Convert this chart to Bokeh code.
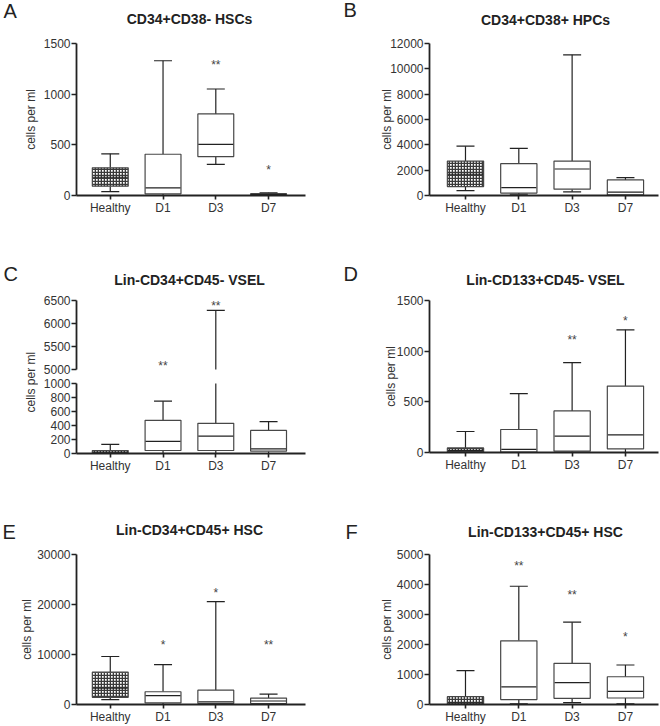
import math
from bokeh.plotting import figure
from bokeh.layouts import column, row
from bokeh.models import Range1d, FixedTicker, Label, LabelSet, ColumnDataSource, NumeralTickFormatter
from bokeh.core.properties import value, field
from bokeh.embed import file_html
from bokeh.resources import INLINE

categories = ["Healthy", "D1", "D3", "D7"]
y_title = "cells per ml"
panel_letters = ["A", "B", "C", "D", "E", "F"]

# Panel A: CD34+CD38- HSCs
a_title = "CD34+CD38- HSCs"
a_low = [39, 0, 308, 0]
a_q1 = [92, 17, 384, 3]
a_med = [180, 76, 505, 8]
a_q3 = [273, 407, 805, 18]
a_high = [411, 1330, 1051, 27]
a_star = ["", "", "**", "*"]
a_star_y = [0, 0, 1322, 280]
a_ticks = [0, 500, 1000, 1500]

# Panel B: CD34+CD38+ HPCs
b_title = "CD34+CD38+ HPCs"
b_low = [392, 100, 290, 0]
b_q1 = [706, 188, 502, 50]
b_med = [1677, 627, 2093, 267]
b_q3 = [2720, 2509, 2720, 1230]
b_high = [3896, 3716, 11109, 1411]
b_star = ["", "", "", ""]
b_star_y = [0, 0, 0, 0]
b_ticks = [0, 2000, 4000, 6000, 8000, 10000, 12000]

# Panel C: Lin-CD34+CD45- VSEL (broken axis)
c_title = "Lin-CD34+CD45- VSEL"
c_low = [0, 0, 0, 0]
c_q1 = [5, 43, 43, 33]
c_med = [19, 172, 249, 66]
c_q3 = [43, 474, 431, 330]
c_high = [129, 747, 6284, 454]
c_star = ["", "**", "**", ""]
c_star_y = [0, 5150, 6440, 0]
c_ticks_low = [0, 200, 400, 600, 800, 1000]
c_ticks_high = [5000, 5500, 6000, 6500]

# Panel D: Lin-CD133+CD45- VSEL
d_title = "Lin-CD133+CD45- VSEL"
d_low = [0, 0, 0, 0]
d_q1 = [5, 5, 13, 36]
d_med = [20, 30, 161, 173]
d_q3 = [45, 227, 410, 656]
d_high = [207, 581, 886, 1211]
d_star = ["", "", "**", "*"]
d_star_y = [0, 0, 1139, 1326]
d_ticks = [0, 500, 1000, 1500]

# Panel E: Lin-CD34+CD45+ HSC
e_title = "Lin-CD34+CD45+ HSC"
e_low = [980, 0, 0, 0]
e_q1 = [1431, 314, 200, 200]
e_med = [3254, 1764, 510, 700]
e_q3 = [6468, 2548, 2862, 1294]
e_high = [9604, 7958, 20580, 2078]
e_star = ["", "*", "*", "**"]
e_star_y = [0, 12545, 22850, 12545]
e_ticks = [0, 10000, 20000, 30000]

# Panel F: Lin-CD133+CD45+ HSC
f_title = "Lin-CD133+CD45+ HSC"
f_low = [0, 20, 65, 20]
f_q1 = [10, 163, 206, 216]
f_med = [50, 588, 729, 435]
f_q3 = [261, 2124, 1373, 925]
f_high = [1131, 3941, 2745, 1317]
f_star = ["", "**", "**", "*"]
f_star_y = [0, 4726, 3745, 2363]
f_ticks = [0, 1000, 2000, 3000, 4000, 5000]

FONT = "Liberation Sans"
INK = "#222222"
BOXLINE = "#474747"
TEXT = "#333333"
BOX_W = 0.68
LEFT_X = (-0.64, 3.70)
RIGHT_X = (-0.675, 3.62)


def make_fig(w, h, ml, mr, mt, mb, xr, yr, yticks, x_axis=True, y_label=None, y_label_standoff=4):
    p = figure(width=w, height=h, x_range=Range1d(*xr), y_range=Range1d(*yr),
               output_backend="svg", toolbar_location=None,
               x_axis_location="below" if x_axis else None,
               min_border_left=ml, min_border_right=mr, min_border_top=mt, min_border_bottom=mb,
               background_fill_color="white", border_fill_color="white")
    p.outline_line_color = None
    p.xgrid.visible = False
    p.ygrid.visible = False
    for ax in list(p.yaxis) + list(p.xaxis):
        ax.axis_line_color = INK
        ax.axis_line_width = 1.8
        ax.major_tick_line_color = INK
        ax.major_tick_line_width = 1.6
        ax.major_tick_in = 0
        ax.major_tick_out = 5
        ax.minor_tick_line_color = None
        ax.major_label_standoff = 1
        ax.major_label_text_font = FONT
        ax.major_label_text_font_size = "12px"
        ax.major_label_text_color = TEXT
    p.yaxis.ticker = FixedTicker(ticks=yticks)
    p.yaxis.formatter = NumeralTickFormatter(format="0")
    if x_axis:
        p.xaxis.major_tick_out = 4
        p.xaxis.ticker = FixedTicker(ticks=list(range(len(categories))))
        p.xaxis.major_label_overrides = {i: c for i, c in enumerate(categories)}
    if y_label:
        p.yaxis.axis_label = y_label
        p.yaxis.axis_label_text_font = FONT
        p.yaxis.axis_label_text_font_size = "12px"
        p.yaxis.axis_label_text_font_style = "normal"
        p.yaxis.axis_label_text_color = TEXT
        p.yaxis.axis_label_standoff = y_label_standoff
    return p


def blank_fig(w, h):
    p = figure(width=w, height=h, x_range=Range1d(0, w), y_range=Range1d(0, h),
               output_backend="svg", toolbar_location=None,
               x_axis_location=None, y_axis_location=None, min_border=0)
    p.outline_line_color = None
    p.grid.visible = False
    return p


def header(h, letters, letter_pos, titles, title_pos):
    # positions are pixels from the header's top-left corner
    p = blank_fig(660, h)
    p.text(x=[x for x, _ in letter_pos], y=[h - y for _, y in letter_pos], text=letters,
           text_font=value(FONT), text_font_size="20px", text_align="left",
           text_baseline="middle", text_color=INK)
    p.text(x=[x for x, _ in title_pos], y=[h - y for _, y in title_pos], text=titles,
           text_font=value(FONT), text_font_size="14px", text_font_style="bold",
           text_align="center", text_baseline="middle", text_color=INK)
    return p


def draw_boxes(p, low, q1, med, q3, high, star_text, star_y, yr, whiskers_only=False):
    xs = list(range(len(categories)))
    src = ColumnDataSource(dict(x=xs, low=low, q1=q1, med=med, q3=q3, high=high,
                                box_hatch=["cross"] + [" "] * (len(xs) - 1)))
    p.segment(x0="x", y0="q3", x1="x", y1="high", source=src, line_color=INK, line_width=1.2)
    if whiskers_only:
        hx = [x for x, h in zip(xs, high) if yr[0] <= h <= yr[1]]
        hy = [h for h in high if yr[0] <= h <= yr[1]]
        p.scatter(x=hx, y=hy, marker="dash", size=18, line_color=INK, line_width=1.2)
    else:
        p.segment(x0="x", y0="low", x1="x", y1="q1", source=src, line_color=INK, line_width=1.2)
        p.vbar(x="x", width=BOX_W, bottom="q1", top="q3", source=src,
               fill_color="white", hatch_pattern=field("box_hatch"), hatch_color="#3a3a3a",
               hatch_scale=3.0, hatch_weight=1.6, line_color=BOXLINE, line_width=1.2)
        p.scatter(x="x", y="med", marker="dash", size=35, source=src, line_color=INK, line_width=1.2)
        p.scatter(x="x", y="high", marker="dash", size=18, source=src, line_color=INK, line_width=1.2)
        p.scatter(x="x", y="low", marker="dash", size=18, source=src, line_color=INK, line_width=1.2)
    sx, sy, st = [], [], []
    for x, t, y in zip(xs, star_text, star_y):
        if t and yr[0] <= y <= yr[1]:
            sx.append(x); sy.append(y); st.append(t)
    if sx:
        ssrc = ColumnDataSource(dict(x=sx, y=sy, t=st))
        p.add_layout(LabelSet(x="x", y="y", text="t", source=ssrc, y_offset=-3,
                              text_font=value(FONT), text_font_size="12px",
                              text_align="center", text_baseline="middle", text_color="#444444"))


# ---- Row 1: header y 0..32, panels y 32..240 ----
h1 = header(32, panel_letters[0:2], [(3, 10), (343, 9)],
            [a_title, b_title], [(189, 18), (545, 19)])

pa = make_fig(330, 208, 76, 25, 11, 45, LEFT_X, (0, 1500), a_ticks, y_label=y_title, y_label_standoff=3)
draw_boxes(pa, a_low, a_q1, a_med, a_q3, a_high, a_star, a_star_y, (0, 1500))

pb = make_fig(330, 208, 99, 2, 11, 45, RIGHT_X, (0, 12000), b_ticks, y_label=y_title, y_label_standoff=-7)
draw_boxes(pb, b_low, b_q1, b_med, b_q3, b_high, b_star, b_star_y, (0, 12000))

# ---- Row 2: header y 240..290, panels y 290..490 ----
h2 = header(50, panel_letters[2:4], [(3, 33), (343, 33)],
            [c_title, d_title], [(189, 39), (545, 39)])

lab = blank_fig(38, 200)
lab.add_layout(Label(x=30.7, y=108.3, text=y_title, angle=math.pi / 2, text_font=FONT,
                     text_font_size="12px", text_align="center", text_baseline="middle",
                     text_color=TEXT))

cu = make_fig(292, 86, 38, 25, 10, 7, LEFT_X, (5000, 6500), c_ticks_high, x_axis=False)
draw_boxes(cu, c_low, c_q1, c_med, c_q3, c_high, c_star, c_star_y, (5000, 6500), whiskers_only=True)

cl = make_fig(292, 114, 38, 25, 7, 37, LEFT_X, (0, 1000), c_ticks_low)
draw_boxes(cl, c_low, c_q1, c_med, c_q3, c_high, c_star, c_star_y, (0, 1000))

pd_ = make_fig(330, 200, 99, 2, 10, 38, RIGHT_X, (0, 1500), d_ticks, y_label=y_title, y_label_standoff=-4)
draw_boxes(pd_, d_low, d_q1, d_med, d_q3, d_high, d_star, d_star_y, (0, 1500))

# ---- Row 3: header y 490..544, panels y 544..726 ----
h3 = header(54, panel_letters[4:6], [(2, 41), (345, 41)],
            [e_title, f_title], [(189, 39), (545, 41)])

pe = make_fig(330, 182, 76, 25, 10, 19, LEFT_X, (0, 30000), e_ticks, y_label=y_title, y_label_standoff=0)
draw_boxes(pe, e_low, e_q1, e_med, e_q3, e_high, e_star, e_star_y, (0, 30000))

pf = make_fig(330, 182, 99, 2, 10, 19, RIGHT_X, (0, 5000), f_ticks, y_label=y_title, y_label_standoff=0)
draw_boxes(pf, f_low, f_q1, f_med, f_q3, f_high, f_star, f_star_y, (0, 5000))

layout = column(
    h1,
    row(pa, pb),
    h2,
    row(row(lab, column(cu, cl)), pd_),
    h3,
    row(pe, pf),
)

open("out.html", "w").write(file_html(layout, INLINE))
